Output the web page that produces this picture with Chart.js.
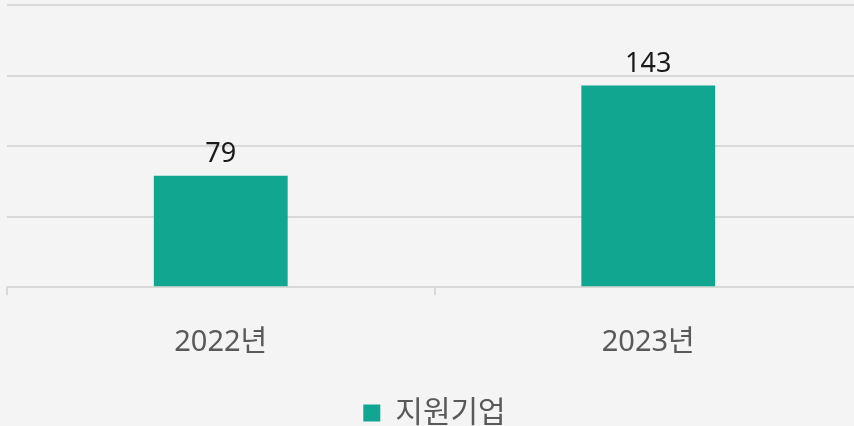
<!DOCTYPE html>
<html>
<head>
<meta charset="utf-8">
<script src="https://cdn.jsdelivr.net/npm/chart.js@4"></script>
<style>
  html, body { margin: 0; padding: 0; background: #f4f4f4; overflow: hidden; }
  #wrap { width: 862px; height: 438px; }
</style>
</head>
<body>
<div id="wrap"><canvas id="chart"></canvas></div>
<script>
/* ---------- data ---------- */
const categories = ['2022년', '2023년'];
const seriesName = '지원기업';
const supportValues = [79, 143];

const FONT = '"Noto Sans", "Noto Sans CJK KR", sans-serif';

/* ---------- value labels above bars ---------- */
const barLabels = {
  id: 'barLabels',
  afterDatasetsDraw(chart) {
    const ctx = chart.ctx;
    const meta = chart.getDatasetMeta(0);
    ctx.save();
    ctx.font = '27px ' + FONT;
    ctx.fillStyle = '#1a1a1a';
    ctx.textAlign = 'center';
    ctx.textBaseline = 'bottom';
    meta.data.forEach((bar, i) => {
      const { x, y } = bar.getProps(['x', 'y'], true);
      ctx.fillText(chart.data.datasets[0].data[i], x, y - 8);
    });
    ctx.restore();
  }
};

/* ---------- main ---------- */
new Chart(document.getElementById('chart'), {
  type: 'bar',
  data: {
    labels: categories,
    datasets: [{
      label: seriesName,
      data: supportValues,
      backgroundColor: '#11a68f',
      borderWidth: 0,
      categoryPercentage: 1,
      barPercentage: 0.313
    }]
  },
  options: {
    responsive: true,
    maintainAspectRatio: false,
    animation: false,
    layout: { padding: { top: 5, left: 7, right: 0, bottom: 0 } },
    plugins: {
      legend: {
        position: 'bottom',
        labels: {
          boxWidth: 17,
          boxHeight: 17,
          padding: 8,
          color: '#595959',
          font: { family: FONT, size: 30 }
        }
      },
      tooltip: { enabled: false }
    },
    scales: {
      x: {
        grid: { display: true, drawOnChartArea: false, color: '#d9d9d9', lineWidth: 2, tickLength: 8 },
        border: { color: '#d9d9d9', width: 2 },
        ticks: { color: '#595959', font: { family: FONT, size: 29 }, padding: 30 }
      },
      y: {
        min: 0,
        max: 200,
        ticks: { display: false, stepSize: 50 },
        grid: { color: '#d9d9d9', lineWidth: 2, drawTicks: false },
        border: { display: false }
      }
    }
  },
  plugins: [barLabels]
});
</script>
</body>
</html>
